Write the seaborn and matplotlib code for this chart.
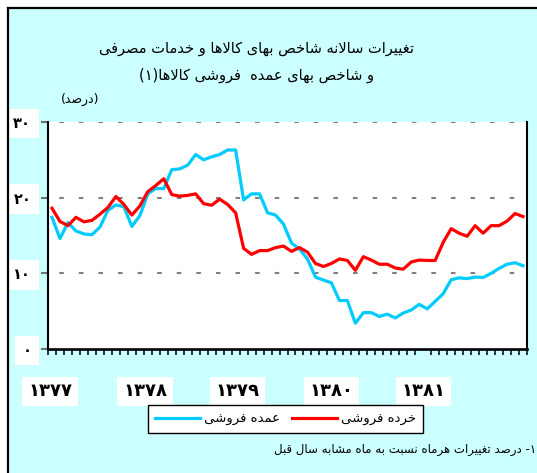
import re
import numpy as np
import pandas as pd
import matplotlib
matplotlib.use("Agg")
import matplotlib.pyplot as plt
from matplotlib.lines import Line2D
from matplotlib.patches import Rectangle
import seaborn as sns

# monthly year-on-year change (%), 1377-1381
retail = [18.6, 16.85, 16.3, 17.4, 16.8, 17.0, 17.8, 18.7, 20.15, 19.1, 17.7, 18.9,
          20.8, 21.6, 22.5, 20.4, 20.2, 20.3, 20.5, 19.2, 19.0, 19.8, 19.1, 18.0,
          13.3, 12.5, 13.0, 13.0, 13.4, 13.6, 12.9, 13.4, 12.8, 11.3, 10.9, 11.3,
          11.9, 11.7, 10.4, 12.2, 11.75, 11.2, 11.2, 10.7, 10.55, 11.5, 11.75, 11.7,
          11.7, 14.1, 15.9, 15.3, 14.9, 16.3, 15.3, 16.3, 16.3, 16.9, 17.9, 17.5]
wholesale = [17.4, 14.6, 16.7, 15.6, 15.2, 15.1, 16.1, 18.3, 19.05, 18.8, 16.2, 17.6,
             20.5, 21.2, 21.2, 23.7, 23.8, 24.3, 25.7, 25.0, 25.4, 25.7, 26.3, 26.3,
             19.7, 20.5, 20.5, 18.0, 17.7, 16.5, 14.0, 13.2, 11.9, 9.5, 9.1, 8.75,
             6.4, 6.4, 3.4, 4.8, 4.8, 4.3, 4.6, 4.1, 4.75, 5.15, 5.9, 5.3,
             6.3, 7.3, 9.15, 9.4, 9.3, 9.5, 9.45, 10.0, 10.65, 11.2, 11.4, 11.0]
years = ["۱۳۷۷", "۱۳۷۸", "۱۳۷۹", "۱۳۸۰", "۱۳۸۱"]
year_pos = [-0.25, 11.65, 23.2, 35.0, 46.5]
y_ticks = [0, 10, 20, 30]
y_labels = ["۰", "۱۰", "۲۰", "۳۰"]
name_wholesale = "عمده فروشی"
name_retail = "خرده فروشی"

# --- tiny arabic/persian shaper (matplotlib has no bidi / joining) ---
FORMS = {
    'ا': (0xFE8D, 0xFE8E, None, None), 'ب': (0xFE8F, 0xFE90, 0xFE91, 0xFE92),
    'ت': (0xFE95, 0xFE96, 0xFE97, 0xFE98), 'ث': (0xFE99, 0xFE9A, 0xFE9B, 0xFE9C),
    'ج': (0xFE9D, 0xFE9E, 0xFE9F, 0xFEA0), 'ح': (0xFEA1, 0xFEA2, 0xFEA3, 0xFEA4),
    'خ': (0xFEA5, 0xFEA6, 0xFEA7, 0xFEA8), 'د': (0xFEA9, 0xFEAA, None, None),
    'ذ': (0xFEAB, 0xFEAC, None, None), 'ر': (0xFEAD, 0xFEAE, None, None),
    'ز': (0xFEAF, 0xFEB0, None, None), 'س': (0xFEB1, 0xFEB2, 0xFEB3, 0xFEB4),
    'ش': (0xFEB5, 0xFEB6, 0xFEB7, 0xFEB8), 'ص': (0xFEB9, 0xFEBA, 0xFEBB, 0xFEBC),
    'ض': (0xFEBD, 0xFEBE, 0xFEBF, 0xFEC0), 'ط': (0xFEC1, 0xFEC2, 0xFEC3, 0xFEC4),
    'ع': (0xFEC9, 0xFECA, 0xFECB, 0xFECC), 'غ': (0xFECD, 0xFECE, 0xFECF, 0xFED0),
    'ف': (0xFED1, 0xFED2, 0xFED3, 0xFED4), 'ق': (0xFED5, 0xFED6, 0xFED7, 0xFED8),
    'ل': (0xFEDD, 0xFEDE, 0xFEDF, 0xFEE0), 'م': (0xFEE1, 0xFEE2, 0xFEE3, 0xFEE4),
    'ن': (0xFEE5, 0xFEE6, 0xFEE7, 0xFEE8), 'ه': (0xFEE9, 0xFEEA, 0xFEEB, 0xFEEC),
    'و': (0xFEED, 0xFEEE, None, None), 'ی': (0xFBFC, 0xFBFD, 0xFBFE, 0xFBFF),
    'ک': (0xFB8E, 0xFB8F, 0xFB90, 0xFB91), 'گ': (0xFB92, 0xFB93, 0xFB94, 0xFB95),
}


def fa(text):
    out = []
    i = 0
    n = len(text)
    while i < n:
        c = text[i]
        if c not in FORMS:
            out.append(c)
            i += 1
            continue
        prev = text[i - 1] if i > 0 else ''
        jp = prev in FORMS and FORMS[prev][2] is not None
        if c == 'ل' and i + 1 < n and text[i + 1] == 'ا':
            out.append(chr(0xFEFC if jp else 0xFEFB))
            i += 2
            continue
        nxt = text[i + 1] if i + 1 < n else ''
        jn = FORMS[c][2] is not None and nxt in FORMS
        iso, fin, ini, med = FORMS[c]
        out.append(chr(med if (jp and jn) else fin if jp else ini if jn else iso))
        i += 1
    vis = ''.join(out)[::-1]
    vis = vis.translate(str.maketrans('()', ')('))
    vis = re.sub(r'[0-9۰-۹]+', lambda m: m.group(0)[::-1], vis)
    return vis


df = pd.DataFrame({
    "month": list(range(len(retail))) * 2,
    "value": wholesale + retail,
    "series": [name_wholesale] * len(wholesale) + [name_retail] * len(retail),
})

plt.rcParams['font.family'] = ['DejaVu Sans']
bg = "#CCFFFF"
fig = plt.figure(figsize=(5.37, 4.73), dpi=100, facecolor="white")
fig.add_artist(Rectangle((0.014, 0), 0.986, 0.984, transform=fig.transFigure,
                         facecolor=bg, edgecolor="none", zorder=-10))
fig.add_artist(Line2D([0.014, 0.014], [0, 0.984], color="black", lw=1.6,
                      transform=fig.transFigure, zorder=10))
fig.add_artist(Line2D([0.014, 1.0], [0.984, 0.984], color="black", lw=1.6,
                      transform=fig.transFigure, zorder=10))

ax = fig.add_axes([0.0894, 0.2622, 0.892, 0.4799])
ax.set_facecolor("white")

sns.lineplot(data=df, x="month", y="value", hue="series",
             palette={name_wholesale: "#00CCFF", name_retail: "#FF0000"},
             hue_order=[name_wholesale, name_retail],
             linewidth=2.3, ax=ax, legend=False)

ax.set_xlim(-0.5, len(retail) - 0.5)
ax.set_ylim(0, 30)
ax.set_xlabel("")
ax.set_ylabel("")

for y in [10, 20, 30]:
    ax.axhline(y, color="#808080", lw=1.5, ls=(4, (2.2, 7.2)), zorder=0.5)

for side in ["left", "right"]:
    ax.spines[side].set_linewidth(1.5)
    ax.spines[side].set_color("black")
ax.spines["bottom"].set_linewidth(1.9)
ax.spines["top"].set_visible(False)

ax.set_yticks(y_ticks)
ax.set_yticklabels(y_labels, fontsize=10.5, fontweight="bold")
ax.tick_params(axis="y", length=5, width=1.5, color="#707070", pad=7)
for lbl in ax.get_yticklabels():
    lbl.set_bbox(dict(facecolor="white", edgecolor="none", boxstyle="square,pad=0.5"))

ax.set_xticks(np.arange(-0.5, len(retail), 1.0), minor=True)
ax.set_xticks(year_pos)
ax.set_xticklabels(years, fontsize=13, fontweight="bold")
ax.tick_params(axis="x", which="major", length=0, pad=24)
ax.tick_params(axis="x", which="minor", length=4.5, width=1.1, color="black", direction="out")
for lbl in ax.get_xticklabels():
    lbl.set_bbox(dict(facecolor="white", edgecolor="none", pad=4))

fig.text(0.477, 0.8985, fa("تغییرات سالانه شاخص بهای کالاها و خدمات مصرفی"),
         ha="center", va="center", fontsize=10.5)
fig.text(0.477, 0.8414, fa("و شاخص بهای عمده  فروشی کالاها(۱)"),
         ha="center", va="center", fontsize=10.5)
fig.text(0.149, 0.789, fa("(درصد)"), ha="center", va="center", fontsize=9)

handles = [Line2D([], [], color="#00CCFF", lw=2.3), Line2D([], [], color="#FF0000", lw=2.3)]
leg = fig.legend(handles, [fa(name_wholesale), fa(name_retail)], ncol=2,
                 loc="center", bbox_to_anchor=(0.5317, 0.1142), bbox_transform=fig.transFigure,
                 fontsize=9.5, frameon=True, fancybox=False, framealpha=1,
                 edgecolor="black", handlelength=3.4, columnspacing=0.9,
                 borderpad=0.55, handletextpad=0.3, borderaxespad=0)
leg.get_frame().set_linewidth(1.0)

fig.text(0.998, 0.049, fa("۱- درصد تغییرات هرماه نسبت به ماه مشابه سال قبل"),
         ha="right", va="center", fontsize=8.5)

fig.savefig("out.png", dpi=100, facecolor=fig.get_facecolor())
